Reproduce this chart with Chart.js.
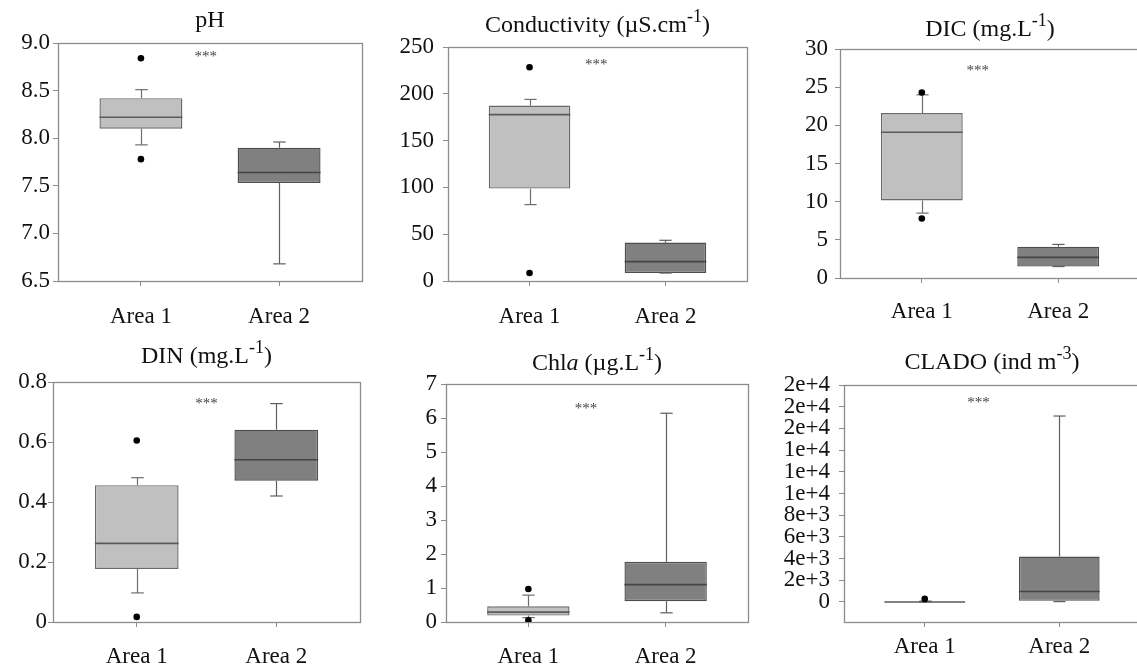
<!DOCTYPE html>
<html><head><meta charset="utf-8">
<script src="https://cdn.jsdelivr.net/npm/chart.js@4.4.0/dist/chart.umd.min.js"></script>
<style>
html,body{margin:0;padding:0;background:#fff;overflow:hidden;width:1137px;height:669px;}
#wrap{position:relative;width:1137px;height:669px;overflow:hidden;}
canvas{position:absolute;}
</style></head><body><div id="wrap"></div>
<script>
// ---------- DATA ----------
const categories = ['Area 1', 'Area 2'];
const categoryX = [1, 2];

// box statistics per area: [lower whisker, Q1, median, Q3, upper whisker]
const pH_box = [[7.93, 8.10, 8.22, 8.42, 8.51], [6.68, 7.53, 7.64, 7.90, 7.96]];
const pH_outliers = [[8.84, 7.78], []];
const pH_ticks = [6.5, 7.0, 7.5, 8.0, 8.5, 9.0];
const pH_tickLabels = ['6.5', '7.0', '7.5', '8.0', '8.5', '9.0'];
const pH_sig = [1.47, 8.885];

const cond_box = [[81.6, 98.7, 177.8, 187.4, 194.0], [8.5, 8.5, 20.7, 41.0, 43.5]];
const cond_outliers = [[228.3, 8.5], []];
const cond_ticks = [0, 50, 100, 150, 200, 250];
const cond_tickLabels = ['0', '50', '100', '150', '200', '250'];
const cond_sig = [1.49, 234];

const dic_box = [[8.5, 10.15, 19.1, 21.6, 24.0], [1.5, 1.5, 2.7, 4.1, 4.4]];
const dic_outliers = [[24.3, 7.8], []];
const dic_ticks = [0, 5, 10, 15, 20, 25, 30];
const dic_tickLabels = ['0', '5', '10', '15', '20', '25', '30'];
const dic_sig = [1.41, 27.5];

const din_box = [[0.097, 0.177, 0.262, 0.456, 0.481], [0.42, 0.471, 0.541, 0.641, 0.728]];
const din_outliers = [[0.605, 0.017], []];
const din_ticks = [0, 0.2, 0.4, 0.6, 0.8];
const din_tickLabels = ['0', '0.2', '0.4', '0.6', '0.8'];
const din_sig = [1.50, 0.7375];

const chla_box = [[0.13, 0.19, 0.29, 0.46, 0.79], [0.27, 0.61, 1.10, 1.77, 6.14]];
const chla_outliers = [[0.97, 0.05], []];
const chla_ticks = [0, 1, 2, 3, 4, 5, 6, 7];
const chla_tickLabels = ['0', '1', '2', '3', '4', '5', '6', '7'];
const chla_sig = [1.42, 6.36];

const clado_box = [[0, 0, 0, 50, 80], [30, 100, 960, 4190, 17140]];
const clado_outliers = [[280], []];
const clado_ticks = [0, 2000, 4000, 6000, 8000, 10000, 12000, 14000, 16000, 18000, 20000];
const clado_tickLabels = ['0', '2e+3', '4e+3', '6e+3', '8e+3', '1e+4', '1e+4', '1e+4', '2e+4', '2e+4', '2e+4'];
const clado_sig = [1.40, 18615];

// ---------- PANELS (text + layout) ----------
const FONT = '"Liberation Serif", "Times New Roman", serif';
const panels = [
  { box: pH_box, out: pH_outliers, ticks: pH_ticks, labels: pH_tickLabels, sig: pH_sig, yMin: 6.5, yMax: 9.0,
    title: [{t: 'pH'}],
    L: {cl: 0, ct: 0, cw: 372, ch: 330, pl: 58, pt: 43, pr: 362, pb: 281, tb: 27, xp: 17, yp: 3} },
  { box: cond_box, out: cond_outliers, ticks: cond_ticks, labels: cond_tickLabels, sig: cond_sig, yMin: 0, yMax: 250,
    title: [{t: 'Conductivity (\u00B5S.cm'}, {t: '-1', sup: true}, {t: ')'}],
    L: {cl: 378, ct: 0, cw: 376, ch: 330, pl: 448, pt: 47, pr: 747, pb: 281, tb: 32, xp: 17, yp: 9} },
  { box: dic_box, out: dic_outliers, ticks: dic_ticks, labels: dic_tickLabels, sig: dic_sig, yMin: 0, yMax: 30,
    title: [{t: 'DIC (mg.L'}, {t: '-1', sup: true}, {t: ')'}],
    L: {cl: 760, ct: 0, cw: 385, ch: 330, pl: 840, pt: 49, pr: 1140, pb: 278, tb: 36, xp: 15, yp: 7} },
  { box: din_box, out: din_outliers, ticks: din_ticks, labels: din_tickLabels, sig: din_sig, yMin: 0, yMax: 0.8,
    title: [{t: 'DIN (mg.L'}, {t: '-1', sup: true}, {t: ')'}],
    L: {cl: 0, ct: 330, cw: 372, ch: 339, pl: 53, pt: 382, pr: 360, pb: 622, tb: 363, xp: 16, yp: 1} },
  { box: chla_box, out: chla_outliers, ticks: chla_ticks, labels: chla_tickLabels, sig: chla_sig, yMin: 0, yMax: 7,
    title: [{t: 'Chl'}, {t: 'a', it: true}, {t: ' (\u00B5g.L'}, {t: '-1', sup: true}, {t: ')'}],
    L: {cl: 378, ct: 330, cw: 376, ch: 339, pl: 446, pt: 384, pr: 748, pb: 622, tb: 370, xp: 16, yp: 4} },
  { box: clado_box, out: clado_outliers, ticks: clado_ticks, labels: clado_tickLabels, sig: clado_sig, yMin: -1850, yMax: 20000,
    title: [{t: 'CLADO (ind m'}, {t: '-3', sup: true}, {t: ')'}],
    L: {cl: 760, ct: 330, cw: 385, ch: 339, pl: 844, pt: 385, pr: 1140, pb: 622, tb: 369, xp: 6, yp: 9} }
];

const boxFill = ['#c0c0c0', '#808080'];
const boxEdge = ['#6a6a6a', '#4e4e4e'];
const medianColor = ['#5a5a5a', '#444444'];
const whiskerColor = ['#6e6e6e', '#5e5e5e'];
const frameColor = '#8c8c8c';
const TICK_SIZE = 23, TITLE_SIZE = 24;

// ---------- PLUGINS ----------
function seg(ctx, x1, y1, x2, y2) { ctx.beginPath(); ctx.moveTo(x1, y1); ctx.lineTo(x2, y2); ctx.stroke(); }

const boxExtras = {
  id: 'boxExtras',
  afterDatasetDraw(chart, args, opts) {
    if (args.meta.type !== 'bar') return;
    const y = chart.scales.y, ctx = chart.ctx;
    args.meta.data.forEach((bar, i) => {
      const s = opts.stats[i];
      const x = Math.round(bar.x) + 0.5, half = bar.width / 2, cap = bar.width * 0.075;
      const p = s.map(v => y.getPixelForValue(v));
      ctx.save();
      ctx.strokeStyle = whiskerColor[i]; ctx.lineWidth = 1.2;
      seg(ctx, x, p[3], x, p[4]); seg(ctx, x, p[1], x, p[0]);
      seg(ctx, x - cap, p[4], x + cap, p[4]); seg(ctx, x - cap, p[0], x + cap, p[0]);
      ctx.strokeStyle = medianColor[i]; ctx.lineWidth = 1.6;
      seg(ctx, bar.x - half, p[2], bar.x + half, p[2]);
      ctx.restore();
    });
  }
};

const decor = {
  id: 'decor',
  beforeDatasetsDraw(chart) {
    const a = chart.chartArea, ctx = chart.ctx;
    ctx.save();
    ctx.strokeStyle = frameColor; ctx.lineWidth = 1.3;
    ctx.strokeRect(Math.round(a.left) + 0.5, Math.round(a.top) + 0.5, Math.round(a.right - a.left), Math.round(a.bottom - a.top));
    ctx.restore();
  },
  afterDraw(chart, args, opts) {
    const a = chart.chartArea, ctx = chart.ctx;
    ctx.save();
    const size = TITLE_SIZE;
    const parts = opts.title.map(p => {
      const sz = p.sup ? Math.round(size * 0.75) : size;
      const f = (p.it ? 'italic ' : '') + sz + 'px ' + FONT;
      ctx.font = f;
      return {p, f, w: ctx.measureText(p.t).width};
    });
    const total = parts.reduce((s, q) => s + q.w, 0);
    let x = (a.left + a.right) / 2 - total / 2;
    ctx.fillStyle = '#111'; ctx.textBaseline = 'alphabetic'; ctx.textAlign = 'left';
    parts.forEach(q => {
      ctx.font = q.f;
      ctx.fillText(q.p.t, x, opts.titleBase - (q.p.sup ? size * 0.42 : 0));
      x += q.w;
    });
    ctx.font = '15px ' + FONT; ctx.fillStyle = '#444'; ctx.textAlign = 'center'; ctx.textBaseline = 'middle';
    ctx.fillText('***', chart.scales.x.getPixelForValue(opts.sig[0]), chart.scales.y.getPixelForValue(opts.sig[1]) + 3);
    ctx.restore();
  }
};

// ---------- BUILD ----------
const wrap = document.getElementById('wrap');
panels.forEach(P => {
  const L = P.L;
  const c = document.createElement('canvas');
  c.width = L.cw; c.height = L.ch;
  c.style.left = L.cl + 'px'; c.style.top = L.ct + 'px';
  c.style.width = L.cw + 'px'; c.style.height = L.ch + 'px';
  wrap.appendChild(c);

  const boxData = categoryX.map((x, i) => ({x: x, y: [P.box[i][1], P.box[i][3]]}));
  const outData = [];
  P.out.forEach((arr, i) => arr.forEach(v => outData.push({x: categoryX[i], y: v})));

  new Chart(c, {
    type: 'bar',
    data: {
      datasets: [
        { type: 'scatter', data: outData, pointRadius: 3.3, pointBackgroundColor: '#000', pointBorderColor: '#000', pointBorderWidth: 0 },
        { type: 'bar', data: boxData, backgroundColor: boxFill, borderColor: boxEdge, borderWidth: 1.4, borderSkipped: false,
          categoryPercentage: 1, barPercentage: 0.6 }
      ]
    },
    options: {
      responsive: false, animation: false, events: [],
      layout: { padding: { top: L.pt - L.ct, right: L.cl + L.cw - L.pr, left: 0, bottom: 0 } },
      plugins: {
        legend: { display: false }, tooltip: { enabled: false }, title: { display: false },
        boxExtras: { stats: P.box },
        decor: { title: P.title, titleBase: L.tb - L.ct, sig: P.sig }
      },
      scales: {
        x: {
          type: 'linear', min: 0.4, max: 2.6, offset: false,
          afterBuildTicks: s => { s.ticks = categoryX.map(v => ({value: v})); },
          afterFit: s => { s.height = L.ct + L.ch - L.pb; },
          ticks: { callback: (v, i) => categories[i], font: { family: FONT, size: TICK_SIZE }, color: '#111', padding: L.xp, maxRotation: 0, autoSkip: false },
          grid: { offset: false, drawOnChartArea: false, drawTicks: true, tickLength: 5, color: frameColor, lineWidth: 1 },
          border: { display: false }
        },
        y: {
          min: P.yMin, max: P.yMax,
          afterBuildTicks: s => { s.ticks = P.ticks.map(v => ({value: v})); },
          afterFit: s => { s.width = L.pl - L.cl; },
          ticks: { callback: (v, i) => P.labels[i], font: { family: FONT, size: TICK_SIZE }, color: '#111', padding: L.yp, autoSkip: false },
          grid: { drawOnChartArea: false, drawTicks: true, tickLength: 5, color: frameColor, lineWidth: 1 },
          border: { display: false }
        }
      }
    },
    plugins: [boxExtras, decor]
  });
});
</script></body></html>
